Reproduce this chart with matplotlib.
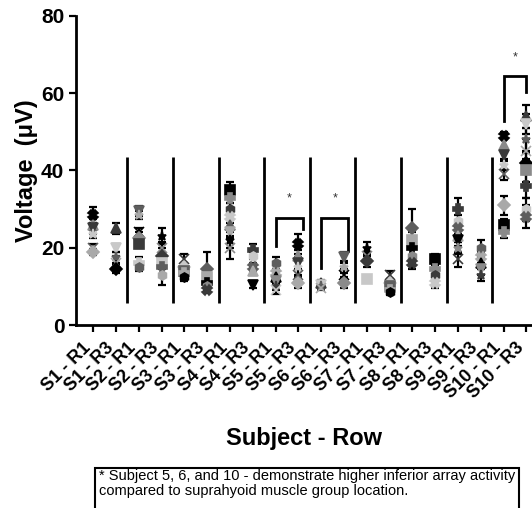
import numpy as np
import matplotlib.pyplot as plt
import matplotlib.transforms as mtransforms
from matplotlib.patches import Rectangle

plt.rcParams['font.family'] = ['Liberation Sans', 'DejaVu Sans']

labels = ['S1 - R1', 'S1 - R3', 'S2 - R1', 'S2 - R3', 'S3 - R1', 'S3 - R3',
          'S4 - R1', 'S4 - R3', 'S5 - R1', 'S5 - R3', 'S6 - R1', 'S6 - R3',
          'S7 - R1', 'S7 - R3', 'S8 - R1', 'S8 - R3', 'S9 - R1', 'S9 - R3',
          'S10 - R1', 'S10 - R3']

# channel means (uV) for each subject/row
means = [
    [28.5, 26.0, 25.0, 23.5, 20.0, 19.0],
    [25.0, 20.0, 17.5, 16.0, 14.5],
    [29.5, 28.5, 24.0, 22.5, 21.0, 16.0, 15.0],
    [23.0, 20.0, 18.0, 16.0, 15.0, 13.0],
    [17.0, 15.0, 14.0, 13.5, 12.5],
    [14.5, 12.5, 11.0, 10.0, 9.0],
    [35.0, 33.0, 30.0, 28.0, 26.0, 24.0, 22.0, 20.0],
    [19.5, 18.0, 15.0, 14.0, 10.5],
    [16.0, 13.5, 12.5, 11.5, 10.0, 9.0],
    [21.0, 18.0, 16.0, 15.0, 13.0, 11.0],
    [11.0, 10.5, 10.0, 9.5],
    [17.5, 15.0, 13.0, 11.0],
    [20.0, 18.0, 16.5, 12.0],
    [13.0, 11.0, 10.0, 9.0, 8.5],
    [25.0, 22.0, 20.0, 18.0, 16.0],
    [17.0, 14.5, 13.0, 11.0],
    [30.0, 27.0, 25.0, 23.0, 22.0, 20.0, 17.0],
    [20.0, 17.5, 16.0, 14.5, 13.0],
    [49.0, 46.5, 44.0, 41.5, 39.0, 31.0, 26.0, 24.0],
    [54.0, 52.0, 48.0, 45.0, 42.0, 40.0, 36.0, 30.0, 28.0],
]

# standard deviations matching the means above
sds = [
    [2.0, 1.5, 1.5, 1.0, 1.0, 0.8],
    [1.5, 1.0, 1.5, 2.0, 1.0],
    [1.2, 1.0, 1.0, 1.5, 1.0, 1.5, 1.0],
    [2.0, 1.5, 2.0, 1.5, 2.0, 2.5],
    [1.5, 1.0, 1.2, 1.0, 1.0],
    [4.5, 1.0, 1.5, 1.0, 0.8],
    [2.0, 1.5, 1.5, 1.5, 1.5, 1.5, 2.0, 3.0],
    [1.5, 1.0, 1.0, 1.0, 1.0],
    [1.5, 1.0, 1.5, 1.5, 1.0, 1.0],
    [2.5, 1.5, 1.5, 2.0, 1.5, 1.5],
    [0.6, 0.5, 0.5, 0.5],
    [1.5, 1.5, 1.5, 1.5],
    [1.5, 1.0, 1.5, 0.8],
    [1.0, 1.0, 1.0, 0.8, 0.8],
    [5.0, 2.0, 2.0, 2.0, 1.5],
    [1.5, 1.5, 1.5, 1.5],
    [3.0, 1.5, 1.5, 1.5, 1.5, 1.5, 2.0],
    [2.0, 1.5, 1.5, 1.5, 1.5],
    [1.0, 1.5, 1.5, 1.5, 1.5, 2.5, 1.5, 1.5],
    [3.0, 2.5, 3.0, 3.0, 2.5, 3.0, 3.0, 3.0, 3.0],
]

# significance brackets: (left, right, top, left foot, right foot)
brackets = [(8, 9.2, 27.8, 20.5, 24.9),
            (10, 11.2, 27.8, 14.8, 19.2),
            (18, 19, 64.3, 52.7, 60.4)]

markers = ['X', '^', 'v', '*', 'x', 'D', 's', 'P', 'h']
shades = ['#000000', '#8a8a8a', '#3a3a3a', '#c8c8c8', '#5e5e5e', '#a9a9a9']

fig = plt.figure(figsize=(5.32, 5.08), dpi=100)
ax = fig.add_axes([0.143, 0.36, 0.857, 0.609])

x = np.arange(len(labels))
for i in range(len(labels)):
    for j, (m, s) in enumerate(zip(means[i], sds[i])):
        ax.errorbar(x[i], m, yerr=s, fmt='none', ecolor='black',
                    elinewidth=1.6, capsize=3, capthick=1.6, zorder=2)
        ax.plot(x[i], m, marker=markers[(i + j) % len(markers)],
                color=shades[(i * 2 + j) % len(shades)], markersize=6.5,
                markeredgewidth=1.2, linestyle='none', zorder=3)

# separators between subjects
ax.vlines(np.arange(1.5, 18, 2), 5.7, 43.5, colors='black', linewidth=2)

for left, right, top, lfoot, rfoot in brackets:
    ax.plot([left, left, right, right], [lfoot, top, top, rfoot],
            color='black', linewidth=2, solid_joinstyle='miter')
    ax.text((left + right) / 2, top + 5, '*', ha='center', va='center',
            fontsize=9, color='#333333')

ax.set_xlim(-0.75, 19.25)
ax.set_ylim(0, 80)
ax.set_yticks([0, 20, 40, 60, 80])
ax.set_xticks(x)
ax.set_xticklabels([])

# slanted category labels, nudged left of their ticks
offset = mtransforms.ScaledTranslation(-8 / 72, -10 / 72, fig.dpi_scale_trans)
for xi, lab in zip(x, labels):
    ax.text(xi, 0, lab, transform=ax.get_xaxis_transform() + offset,
            rotation=45, ha='right', va='top', rotation_mode='anchor',
            fontsize=13, fontweight='bold', clip_on=False)

for lab in ax.get_yticklabels():
    lab.set_fontsize(15)
    lab.set_fontweight('bold')

for side in ['top', 'right']:
    ax.spines[side].set_visible(False)
for side in ['left', 'bottom']:
    ax.spines[side].set_linewidth(2)
ax.tick_params(axis='both', width=1.6, length=5)

ax.set_ylabel('Voltage  (\u03bcV)', fontsize=17, fontweight='bold', labelpad=2)
fig.text(0.571, 0.136, 'Subject - Row', ha='center', va='center',
         fontsize=17, fontweight='bold')

# footnote box
fig.patches.append(Rectangle((95 / 532, -0.05), 424 / 532, 0.05 + 40.5 / 508,
                             transform=fig.transFigure, facecolor='white',
                             edgecolor='black', linewidth=1.5))
fig.text(99 / 532, 1 - 469 / 508,
         '* Subject 5, 6, and 10 - demonstrate higher inferior array activity\n'
         'compared to suprahyoid muscle group location.',
         ha='left', va='top', fontsize=10.5, linespacing=1.1)

fig.savefig('out.png', dpi=100)
